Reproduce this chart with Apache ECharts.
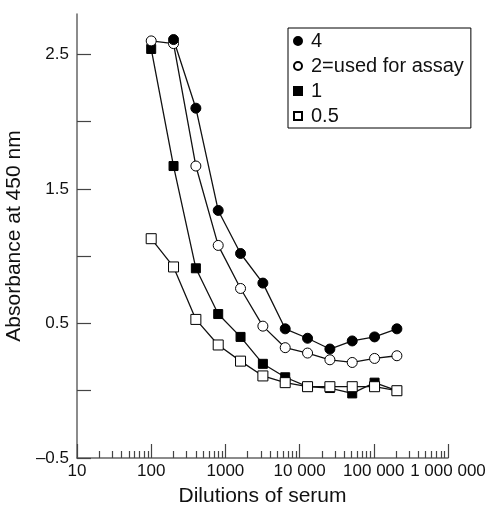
<!DOCTYPE html>
<html>
<head>
<meta charset="utf-8">
<script src="https://cdn.jsdelivr.net/npm/echarts@6/dist/echarts.min.js"></script>
<style>html,body{margin:0;padding:0;background:#fff;}#c{width:490px;height:506px;}</style>
</head>
<body>
<div id="c"></div>
<script>
// Data
const dilutions = [100, 200, 400, 800, 1600, 3200, 6400, 12800, 25600, 51200, 102400, 204800];
const conc4   = [null, 2.61, 2.10, 1.34, 1.02, 0.80, 0.46, 0.39, 0.31, 0.37, 0.40, 0.46];
const conc2   = [2.60, 2.58, 1.67, 1.08, 0.76, 0.48, 0.32, 0.28, 0.23, 0.21, 0.24, 0.26];
const conc1   = [2.54, 1.67, 0.91, 0.57, 0.40, 0.20, 0.10, 0.03, 0.02, -0.02, 0.06, 0.00];
const conc05  = [1.13, 0.92, 0.53, 0.34, 0.22, 0.11, 0.06, 0.03, 0.03, 0.03, 0.03, 0.00];
const seriesNames = ['4', '2=used for assay', '1', '0.5'];
const xMajorTicks = [10, 100, 1000, 10000, 100000, 1000000];
const xMinorTicks = [];
for (const d of [10, 100, 1000, 10000, 100000]) for (let k = 2; k <= 9; k++) xMinorTicks.push(d * k);
const yTicks = [-0.5, 0, 0.5, 1, 1.5, 2, 2.5];
const yLabels = [-0.5, 0.5, 1.5, 2.5];

function pairs(vals) {
  const out = [];
  vals.forEach((v, i) => { if (v !== null) out.push([dilutions[i], v]); });
  return out;
}

const FONT = '"Liberation Sans", Arial, Helvetica, sans-serif';
const SQUARE = 'path://M0,0H10V10H0Z';
const chart = echarts.init(document.getElementById('c'), null, {renderer: 'canvas'});

function mkSeries(name, vals, symbol, filled, size) {
  return {
    name: name,
    type: 'line',
    data: pairs(vals),
    symbol: symbol,
    symbolSize: size,
    showAllSymbol: true,
    connectNulls: true,
    lineStyle: {color: '#111', width: 1.3},
    itemStyle: {color: filled ? '#000' : '#fff', borderColor: '#000', borderWidth: 1},
    emphasis: {disabled: true},
    animation: false,
    xAxisIndex: 0, yAxisIndex: 0
  };
}

function fmtX(v) {
  const n = Math.round(v);
  const s = String(n);
  return n >= 10000 ? s.replace(/\B(?=(\d{3})+(?!\d))/g, ' ') : s;
}

chart.setOption({
  animation: false,
  backgroundColor: '#fff',
  textStyle: {fontFamily: FONT},
  grid: {left: 77, right: 42, top: 14, bottom: 48, containLabel: false, outerBoundsMode: 'none'},
  legend: {
    orient: 'vertical',
    left: 288, top: 28,
    padding: [3, 7, 2, 5],
    itemGap: 5,
    itemWidth: 16, itemHeight: 8,
    symbolKeepAspect: true,
    borderColor: '#000', borderWidth: 1,
    backgroundColor: '#fff',
    textStyle: {fontSize: 20, color: '#111', fontFamily: FONT, lineHeight: 20},
    selectedMode: false,
    data: [
      {name: seriesNames[0], icon: 'circle'},
      {name: seriesNames[1], icon: 'circle'},
      {name: seriesNames[2], icon: SQUARE},
      {name: seriesNames[3], icon: SQUARE}
    ]
  },
  xAxis: [{
    type: 'log', logBase: 10, min: 10, max: 1000000,
    name: 'Dilutions of serum', nameLocation: 'middle', nameGap: 28,
    nameTextStyle: {fontSize: 21, color: '#111', fontFamily: FONT},
    axisLine: {show: true, onZero: false, lineStyle: {color: '#666', width: 1.5}},
    axisTick: {show: true, inside: true, length: 14, customValues: xMajorTicks, lineStyle: {color: '#444', width: 1.2}},
    axisLabel: {show: true, customValues: xMajorTicks, fontSize: 17, color: '#111', margin: 5, fontFamily: FONT,
      formatter: fmtX},
    splitLine: {show: false}, minorTick: {show: false}
  }, {
    type: 'log', logBase: 10, min: 10, max: 1000000, position: 'bottom',
    axisLine: {show: false, onZero: false},
    axisTick: {show: true, inside: true, length: 7, customValues: xMinorTicks, lineStyle: {color: '#444', width: 1.2}},
    axisLabel: {show: false},
    splitLine: {show: false}
  }],
  yAxis: {
    type: 'value', min: -0.5, max: 2.8, interval: 0.5,
    name: 'Absorbance at 450 nm', nameLocation: 'middle', nameGap: 45,
    nameTextStyle: {fontSize: 21, color: '#111', fontFamily: FONT},
    axisLine: {show: true, onZero: false, lineStyle: {color: '#666', width: 1.5}},
    axisTick: {show: true, inside: true, length: 14, customValues: yTicks, lineStyle: {color: '#444', width: 1.2}},
    axisLabel: {show: true, customValues: yLabels, fontSize: 17, color: '#111', margin: 8, fontFamily: FONT,
      formatter: v => (v < 0 ? '\u2013' + Math.abs(v).toFixed(1) : v.toFixed(1))},
    splitLine: {show: false}
  },
  series: [
    mkSeries(seriesNames[2], conc1, 'rect', true, 9),
    mkSeries(seriesNames[3], conc05, 'rect', false, 10),
    mkSeries(seriesNames[1], conc2, 'circle', false, 10),
    mkSeries(seriesNames[0], conc4, 'circle', true, 10)
  ]
});
</script>
</body>
</html>
